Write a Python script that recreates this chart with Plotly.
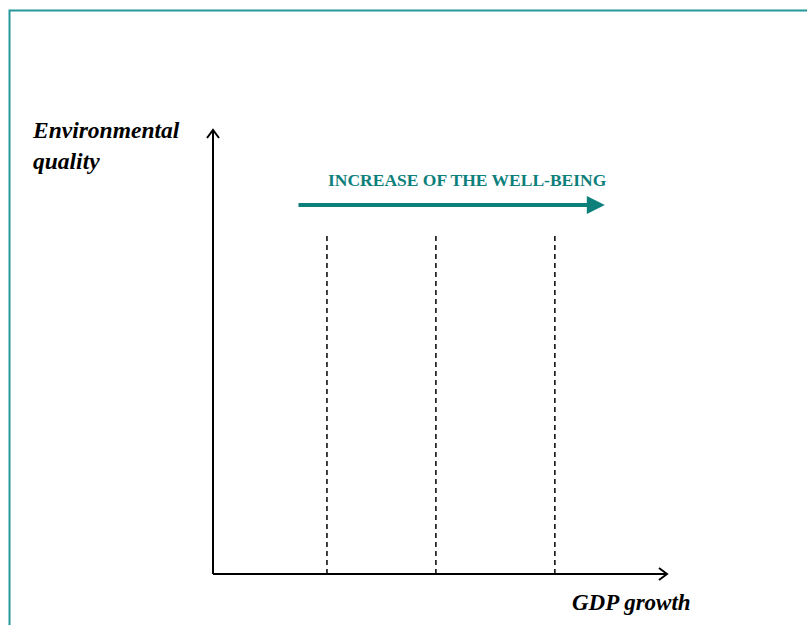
import plotly.graph_objects as go

# ---- data (in chart units: GDP growth 0..100, environmental quality 0..100) ----
axis_max_x = 100
axis_max_y = 100
threshold_x = [25.1, 49.1, 75.3]          # dashed stage boundaries on GDP axis
threshold_top = [76.4, 76.4, 76.4]
wellbeing_arrow_x = [18.5, 86.3]
wellbeing_arrow_y = [83.1, 83.1]
x_label = "GDP growth"
y_label = "Environmental<br>quality"
arrow_label = "INCREASE OF THE WELL-BEING"

W, H = 807, 625
# pixel placement of the axes (origin and arrow tips)
AX0, AX1 = 213, 667
AY0, AY1 = 574, 130
# plot area (a bit larger than the axes so arrowheads are not clipped)
L, RPX, TPX, BPX = 190, 690, 110, 595
ux = (AX1 - AX0) / axis_max_x   # px per unit
uy = (AY0 - AY1) / axis_max_y
xr = [(L - AX0) / ux, (RPX - AX0) / ux]
yr = [(AY0 - BPX) / uy, (AY0 - TPX) / uy]
pw, ph = RPX - L, BPX - TPX


def px_to_paper_x(p):
    return (p - L) / pw


def px_to_paper_y(p):
    return (BPX - p) / ph


TEAL = "#0e807c"
BORDER = "#24979a"
SERIF = "Liberation Serif, DejaVu Serif, serif"

fig = go.Figure()

# axes
fig.add_trace(go.Scatter(x=[0, 0], y=[0, axis_max_y], mode="lines",
                         line=dict(color="black", width=2), hoverinfo="skip"))
fig.add_trace(go.Scatter(x=[0, axis_max_x], y=[0, 0], mode="lines",
                         line=dict(color="black", width=2), hoverinfo="skip"))
# open V arrowheads
hl, hw = 8, 6
fig.add_trace(go.Scatter(x=[-hw / ux, 0, hw / ux],
                         y=[axis_max_y - hl / uy, axis_max_y, axis_max_y - hl / uy],
                         mode="lines", line=dict(color="black", width=2), hoverinfo="skip"))
fig.add_trace(go.Scatter(x=[axis_max_x - hl / ux, axis_max_x, axis_max_x - hl / ux],
                         y=[hw / uy, 0, -hw / uy],
                         mode="lines", line=dict(color="black", width=2), hoverinfo="skip"))

# dashed thresholds
for xv, yt in zip(threshold_x, threshold_top):
    fig.add_trace(go.Scatter(x=[xv, xv], y=[0, yt], mode="lines",
                             line=dict(color="black", width=1.5, dash="5px,4px"),
                             hoverinfo="skip"))

# well-being arrow
fig.add_annotation(x=wellbeing_arrow_x[1], y=wellbeing_arrow_y[1],
                   ax=wellbeing_arrow_x[0], ay=wellbeing_arrow_y[0],
                   xref="x", yref="y", axref="x", ayref="y",
                   showarrow=True, arrowhead=2, arrowsize=0.9, arrowwidth=4,
                   arrowcolor=TEAL, text="", standoff=0, startstandoff=0)
fig.add_annotation(x=sum(wellbeing_arrow_x) / 2 + 3.6, y=wellbeing_arrow_y[0] + 5.6,
                   xref="x", yref="y", text=arrow_label, showarrow=False,
                   font=dict(family=SERIF, size=17.5, color=TEAL, weight="bold"))

# axis labels
fig.add_annotation(x=px_to_paper_x(30), y=px_to_paper_y(146), xref="paper", yref="paper",
                   xanchor="left", yanchor="middle", align="left", text=y_label,
                   showarrow=False,
                   font=dict(family=SERIF, size=23.5, color="black", weight="bold", style="italic"))
fig.add_annotation(x=px_to_paper_x(631), y=px_to_paper_y(602), xref="paper", yref="paper",
                   xanchor="center", yanchor="middle", text=x_label, showarrow=False,
                   font=dict(family=SERIF, size=23, color="black", weight="bold", style="italic"))

# frame (top and left edges visible)
fig.add_shape(type="rect", xref="paper", yref="paper",
              x0=px_to_paper_x(9.5), x1=px_to_paper_x(W + 20),
              y0=px_to_paper_y(H + 20), y1=px_to_paper_y(10.5),
              line=dict(color=BORDER, width=2), fillcolor="rgba(0,0,0,0)", layer="below")

fig.update_layout(
    width=W, height=H, margin=dict(l=L, r=W - RPX, t=TPX, b=H - BPX, pad=0),
    paper_bgcolor="white", plot_bgcolor="white", showlegend=False,
    xaxis=dict(range=xr, visible=False, fixedrange=True),
    yaxis=dict(range=yr, visible=False, fixedrange=True),
)

fig.write_html("out.html", config={"displayModeBar": False},
               post_script="document.body.style.margin='0';")
